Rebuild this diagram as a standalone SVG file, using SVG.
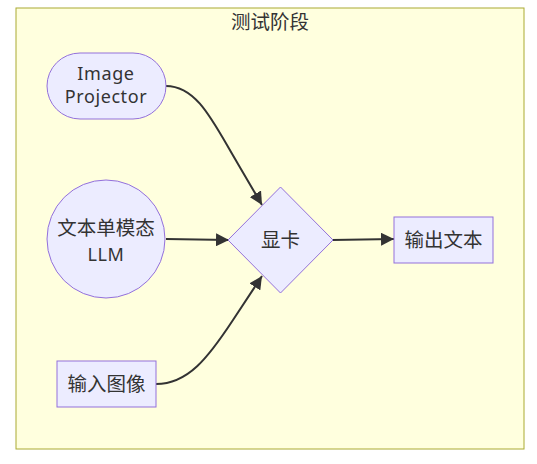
<svg xmlns="http://www.w3.org/2000/svg" width="537" height="464" viewBox="0 0 537 464">
<defs>
<marker id="arrow" viewBox="0 0 10 10" refX="10" refY="5" markerWidth="13" markerHeight="13" markerUnits="userSpaceOnUse" orient="auto">
<path d="M0,0 L10,5 L0,10 z" fill="#333333"/>
</marker>
<style>
.node{fill:#ECECFF;stroke:#9370DB;stroke-width:1}
.lbl{font-family:"Noto Sans","Noto Sans CJK SC",sans-serif;font-size:18px;fill:#333333;text-anchor:middle}
.cjk{font-family:"Noto Sans CJK SC",sans-serif;font-size:19.5px;fill:#333333;text-anchor:middle}
.lat{letter-spacing:0.6px}
.edge{fill:none;stroke:#333333;stroke-width:2;marker-end:url(#arrow)}
</style>
</defs>
<rect width="537" height="464" fill="#ffffff"/>
<g id="cluster">
<rect x="16" y="8" width="508" height="441" fill="#ffffde" stroke="#aaaa33" stroke-width="1"/>
<text class="cjk" x="270" y="29">测试阶段</text>
</g>
<g id="edges">
<path class="edge" d="M166,86 C198,86 214,124 238,164 L262,205"/>
<path class="edge" d="M166,239 L229,240"/>
<path class="edge" d="M156,384 C188,384 208,358 233,320 L262,276"/>
<path class="edge" d="M332,240 L394,239"/>
</g>
<g id="image_projector">
<rect class="node" x="47" y="53" width="119" height="66" rx="33" ry="33"/>
<text class="lbl lat" x="106" y="80">Image</text>
<text class="lbl lat" x="106" y="103">Projector</text>
</g>
<g id="llm">
<circle class="node" cx="106" cy="239" r="59"/>
<text class="cjk" x="106" y="235">文本单模态</text>
<text class="lbl lat" x="106" y="261">LLM</text>
</g>
<g id="gpu">
<polygon class="node" points="280.5,187 333,240 280.5,293 228,240"/>
<text class="cjk" x="280.5" y="247">显卡</text>
</g>
<g id="output">
<rect class="node" x="394" y="217" width="99" height="46"/>
<text class="cjk" x="443.5" y="247">输出文本</text>
</g>
<g id="input">
<rect class="node" x="57" y="361" width="99" height="46"/>
<text class="cjk" x="106.5" y="391">输入图像</text>
</g>
</svg>
